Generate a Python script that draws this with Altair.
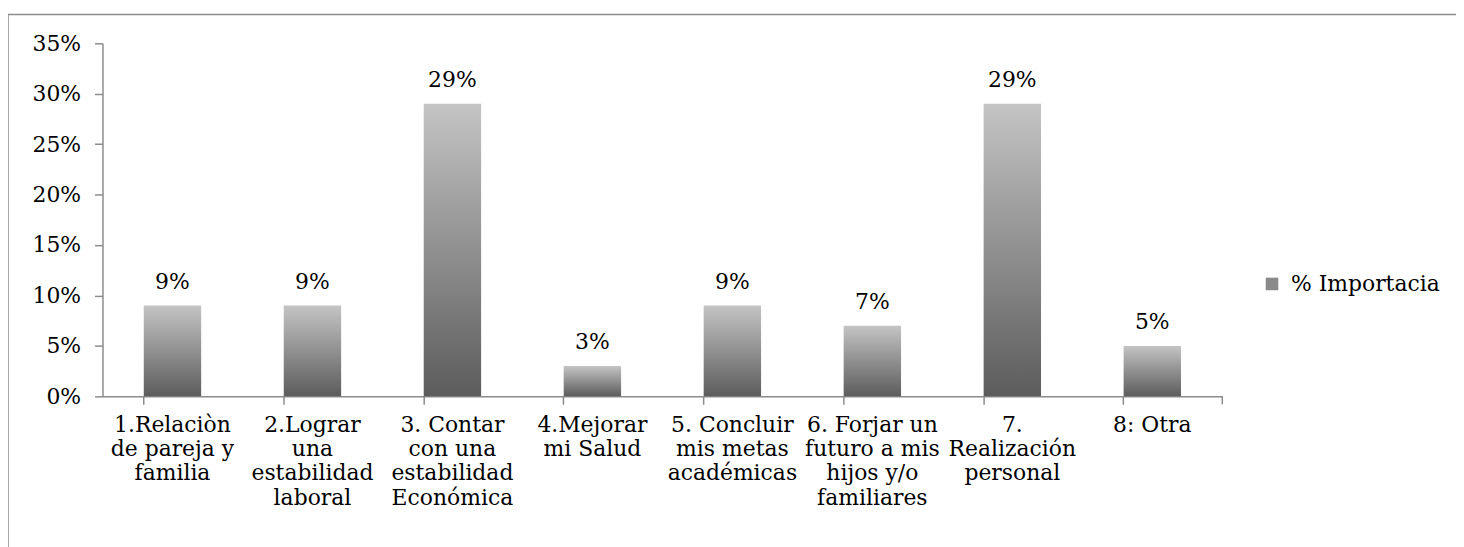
import altair as alt
import pandas as pd

categories = [
    "1.Relaciòn|de pareja y|familia",
    "2.Lograr|una|estabilidad|laboral",
    "3. Contar|con una|estabilidad|Económica",
    "4.Mejorar|mi Salud",
    "5. Concluir|mis metas|académicas",
    "6. Forjar un|futuro a mis|hijos y/o|familiares",
    "7.|Realización|personal",
    "8: Otra",
]
values = [0.09, 0.09, 0.29, 0.03, 0.09, 0.07, 0.29, 0.05]
series_name = "% Importacia"
y_ticks = [0, 0.05, 0.10, 0.15, 0.20, 0.25, 0.30, 0.35]

df = pd.DataFrame({"cat": categories, "val": values, "series": [series_name] * len(values)})

W, H = 1126, 355
FONT = "DejaVu Serif"
FS = 22
GRAY = "#8c8c8c"

xscale = alt.Scale(paddingInner=0.59, paddingOuter=0.295)
yaxis = alt.Axis(values=y_ticks, format=".0%", grid=False,
                 labelFont=FONT, labelFontSize=FS, labelColor="black",
                 labelPadding=14, tickSize=8, tickColor=GRAY,
                 domainColor=GRAY, domainWidth=1.5, tickWidth=1.5)

base = alt.Chart(df)

bars = base.mark_bar(
    color=alt.Gradient(
        gradient="linear",
        x1=0, y1=1, x2=0, y2=0,
        stops=[alt.GradientStop(offset=0, color="#5c5c5c"),
               alt.GradientStop(offset=1, color="#c4c4c4")],
    )
).encode(
    x=alt.X("cat:N", sort=categories, scale=xscale, title=None,
            axis=alt.Axis(orient="bottom", labelAngle=0, ticks=False,
                          labelExpr="split(datum.label, '|')",
                          labelFont=FONT, labelFontSize=FS, labelColor="black",
                          labelLineHeight=24.5, labelPadding=18,
                          labelLimit=200, domainColor=GRAY, domainWidth=1.5)),
    y=alt.Y("val:Q", scale=alt.Scale(domain=[0, 0.35]), title=None, axis=yaxis),
)

labels = base.mark_text(dy=-17, baseline="alphabetic", font=FONT, fontSize=FS, color="black").encode(
    x=alt.X("cat:N", sort=categories, axis=None),
    y=alt.Y("val:Q", title=None, axis=yaxis),
    text=alt.Text("val:Q", format=".0%"),
)

legend_layer = base.mark_square(opacity=0, size=160).encode(
    x=alt.X("cat:N", sort=categories, title=None,
            axis=alt.Axis(orient="bottom", bandPosition=0, labels=False, domain=False,
                          ticks=True, tickSize=8, tickColor=GRAY, tickWidth=1.5, grid=False)),
    y=alt.Y("val:Q", title=None, axis=yaxis),
    color=alt.Color("series:N", scale=alt.Scale(range=["#8a8a8a"]), title=None,
                    legend=alt.Legend(orient="none", legendX=1165, legendY=231,
                                      symbolType="square", symbolSize=160, symbolOpacity=1,
                                      symbolStrokeWidth=0,
                                      labelFont=FONT, labelFontSize=FS, labelColor="black",
                                      labelOffset=8, labelLimit=300)),
)

end_tick = alt.Chart(pd.DataFrame({"k": [0]})).mark_rule(color=GRAY, strokeWidth=1.5).encode(
    x=alt.value(W), y=alt.value(H), y2=alt.value(H + 8)
)

frame = alt.Chart(pd.DataFrame({"k": [0]})).mark_rect(
    fill=None, stroke=GRAY, strokeWidth=1.5
).encode(
    x=alt.value(-95), x2=alt.value(1600), y=alt.value(-29), y2=alt.value(700)
)

chart = alt.layer(frame, bars, labels, legend_layer, end_tick).resolve_axis(
    x="independent"
).properties(
    width=W, height=H,
    autosize=alt.AutoSizeParams(type="none"),
    padding={"left": 95, "top": 34, "right": 235, "bottom": 150},
).configure_view(stroke=None)

chart.save("out.html", embed_options={"renderer": "svg", "actions": False})
